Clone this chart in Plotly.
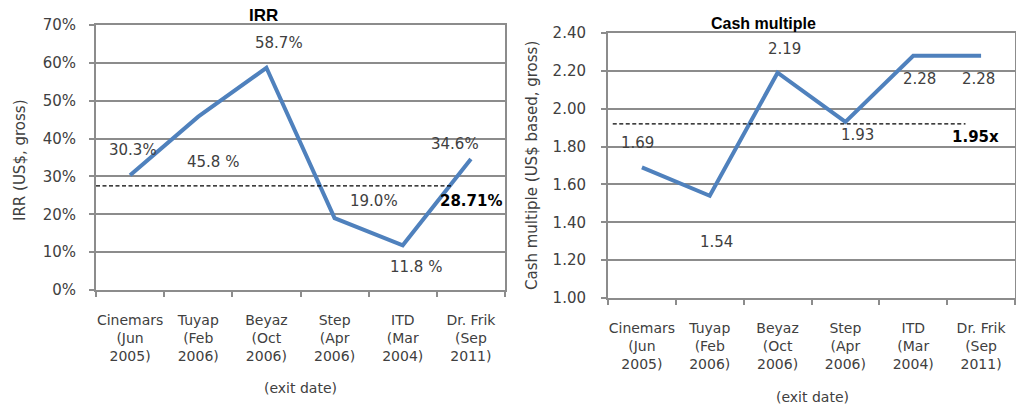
import plotly.graph_objects as go

categories = ["Cinemars<br>(Jun<br>2005)", "Tuyap<br>(Feb<br>2006)", "Beyaz<br>(Oct<br>2006)",
              "Step<br>(Apr<br>2006)", "ITD<br>(Mar<br>2004)", "Dr. Frik<br>(Sep<br>2011)"]
irr_values = [30.3, 45.8, 58.7, 19.0, 11.8, 34.6]
irr_labels = ["30.3%", "45.8 %", "58.7%", "19.0%", "11.8 %", "34.6%"]
irr_avg = 27.5
irr_avg_label = "28.71%"
cash_values = [1.69, 1.54, 2.19, 1.93, 2.28, 2.28]
cash_labels = ["1.69", "1.54", "2.19", "1.93", "2.28", "2.28"]
cash_avg = 1.92
cash_avg_label = "1.95x"

W, H = 1016, 410
FONT = "DejaVu Sans"
TFONT = "Liberation Sans"
GRID = "#8c8c8c"
TXT = "#404040"
BLUE = "#4F81BD"
DASH = "4px,2.5px"

xs = list(range(len(categories)))

fig = go.Figure()
fig.add_trace(go.Scatter(x=xs, y=irr_values, mode="lines", line=dict(color=BLUE, width=4),
                         xaxis="x", yaxis="y", showlegend=False, hoverinfo="skip"))
fig.add_trace(go.Scatter(x=[-0.5, 4.72], y=[irr_avg, irr_avg], mode="lines",
                         line=dict(color="black", width=1.1, dash=DASH),
                         xaxis="x", yaxis="y", showlegend=False, hoverinfo="skip"))
fig.add_trace(go.Scatter(x=xs, y=cash_values, mode="lines", line=dict(color=BLUE, width=4),
                         xaxis="x2", yaxis="y2", showlegend=False, hoverinfo="skip"))
fig.add_trace(go.Scatter(x=[-0.43, 4.77], y=[cash_avg, cash_avg], mode="lines",
                         line=dict(color="black", width=1.1, dash=DASH),
                         xaxis="x2", yaxis="y2", showlegend=False, hoverinfo="skip"))

def xaxis_cfg(domain, anchor):
    return dict(domain=domain, anchor=anchor, range=[-0.5, 5.5], tickmode="array",
                tickvals=xs, ticktext=categories, ticks="", ticklabelstandoff=16,
                tickfont=dict(family=FONT, size=14, color=TXT), automargin=False,
                showgrid=False, zeroline=False, showline=True, linecolor=GRID, linewidth=2,
                mirror=True, fixedrange=True,
                minor=dict(tick0=-0.5, dtick=1, ticks="outside", ticklen=5,
                           tickcolor=GRID, tickwidth=1.5, showgrid=False))

def yaxis_cfg(domain, anchor, rng, dtick, standoff, **kw):
    d = dict(domain=domain, anchor=anchor, range=rng, dtick=dtick, tick0=rng[0],
             ticks="outside", ticklen=5, tickcolor=GRID, tickwidth=1.5, automargin=False,
             ticklabelstandoff=standoff,
             tickfont=dict(family=FONT, size=15, color=TXT),
             showgrid=True, gridcolor=GRID, gridwidth=1.5, zeroline=False,
             showline=True, linecolor=GRID, linewidth=2, mirror=True, fixedrange=True)
    d.update(kw)
    return d

fig.update_layout(
    width=W, height=H, margin=dict(l=0, r=0, t=0, b=0, autoexpand=False),
    paper_bgcolor="white", plot_bgcolor="white",
    xaxis=xaxis_cfg([96 / W, 505 / W], "y"),
    yaxis=yaxis_cfg([1 - 290 / H, 1 - 25 / H], "x", [0, 70], 10, 10, ticksuffix="%"),
    xaxis2=xaxis_cfg([608 / W, 1015 / W], "y2"),
    yaxis2=yaxis_cfg([1 - 298 / H, 1 - 33 / H], "x2", [1.0, 2.4], 0.2, 12, tickformat=".2f"),
)

C = dict(showarrow=False, xanchor="center", yanchor="middle")
ann = []
irr_shifts = [(3, 25), (15, -45), (13, 25), (39, 17), (13, -22), (-16, 15)]
for i, (v, t) in enumerate(zip(irr_values, irr_labels)):
    dx, dy = irr_shifts[i]
    ann.append(dict(x=i, y=v, xref="x", yref="y", text=t, xshift=dx, yshift=dy,
                    font=dict(family=FONT, size=15, color=TXT), **C))
ann.append(dict(x=5, y=irr_avg, xref="x", yref="y", text="<b>" + irr_avg_label + "</b>",
                xshift=0, yshift=-15, font=dict(family=FONT, size=15, color="black"), **C))

cash_shifts = [(-4, 24), (7, -46), (7, 24), (12, -13), (6, -23), (-3, -23)]
for i, (v, t) in enumerate(zip(cash_values, cash_labels)):
    dx, dy = cash_shifts[i]
    ann.append(dict(x=i, y=v, xref="x2", yref="y2", text=t, xshift=dx, yshift=dy,
                    font=dict(family=FONT, size=15, color=TXT), **C))
ann.append(dict(x=5, y=cash_avg, xref="x2", yref="y2", text="<b>" + cash_avg_label + "</b>",
                xshift=-6, yshift=-13, font=dict(family=FONT, size=15, color="black"), **C))

# titles
ann.append(dict(x=263 / W, y=1 - 15 / H, xref="paper", yref="paper", text="<b>IRR</b>",
                font=dict(family=TFONT, size=17, color="black"), **C))
ann.append(dict(x=763 / W, y=1 - 23 / H, xref="paper", yref="paper", text="<b>Cash multiple</b>",
                font=dict(family=TFONT, size=16, color="black"), **C))
# axis titles
ann.append(dict(x=20 / W, y=1 - 160 / H, xref="paper", yref="paper", text="IRR (US$, gross)", textangle=-90,
                font=dict(family=FONT, size=15, color=TXT), **C))
ann.append(dict(x=532 / W, y=1 - 166 / H, xref="paper", yref="paper", text="Cash multiple (US$ based, gross)",
                textangle=-90, font=dict(family=FONT, size=15, color=TXT), **C))
ann.append(dict(x=300 / W, y=1 - 388 / H, xref="paper", yref="paper", text="(exit date)",
                font=dict(family=FONT, size=14, color=TXT), **C))
ann.append(dict(x=812 / W, y=1 - 397 / H, xref="paper", yref="paper", text="(exit date)",
                font=dict(family=FONT, size=14, color=TXT), **C))
fig.update_layout(annotations=ann)

fig.write_html("out.html", config={"displayModeBar": False},
               post_script="document.body.style.margin='0';document.body.style.overflow='hidden';")
